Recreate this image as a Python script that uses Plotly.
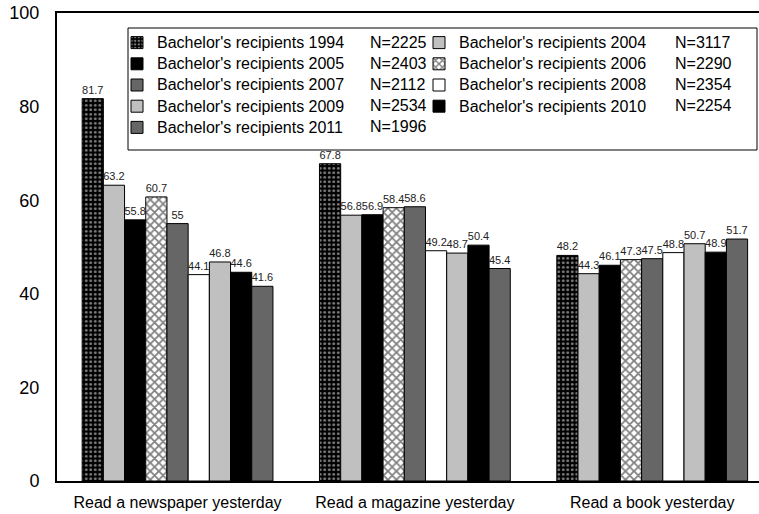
import plotly.graph_objects as go

# ---- data ----
categories = ["Read a newspaper yesterday", "Read a magazine yesterday", "Read a book yesterday"]
years = ["1994", "2004", "2005", "2006", "2007", "2008", "2009", "2010", "2011"]
sample_sizes = ["2225", "3117", "2403", "2290", "2112", "2354", "2534", "2254", "1996"]
newspaper = [81.7, 63.2, 55.8, 60.7, 55, 44.1, 46.8, 44.6, 41.6]
magazine = [67.8, 56.8, 56.9, 58.4, 58.6, 49.2, 48.7, 50.4, 45.4]
book = [48.2, 44.3, 46.1, 47.3, 47.5, 48.8, 50.7, 48.9, 51.7]
y_ticks = [0, 20, 40, 60, 80, 100]

# ---- geometry ----
W, H = 759, 514
L, T, R, B = 57, 13, 0, 33
PW, PH = W - L - R, H - T - B


def px_x(px):
    return (px - L) / PW


def px_y(py):
    return (H - B - py) / PH


FONT = "Liberation Sans, Arial, sans-serif"

styles = [
    dict(color="black", pattern=dict(shape=".", fgcolor="white", bgcolor="black", solidity=0.33, size=4.5)),
    dict(color="#c0c0c0"),
    dict(color="black"),
    dict(color="white", pattern=dict(shape="x", fgcolor="black", bgcolor="white", solidity=0.5, size=6)),
    dict(color="#666666"),
    dict(color="white"),
    dict(color="#c0c0c0"),
    dict(color="black"),
    dict(color="#666666"),
]

fig = go.Figure()
for i, yr in enumerate(years):
    vals = [newspaper[i], magazine[i], book[i]]
    fig.add_trace(go.Bar(
        x=categories, y=vals,
        name="<span style='font-size:16px'>Bachelor's recipients " + yr + "</span>",
        marker=dict(line=dict(color="black", width=1), **styles[i]),
        texttemplate="%{y}", textposition="outside",
        textfont=dict(size=11, color="#222222", family=FONT),
        constraintext="none", cliponaxis=False,
    ))

# N= labels next to legend entries
row_y = [42, 63.2, 84.4, 105.6, 126.8]
col_x = [368, 673]
annotations = []
for i, n in enumerate(sample_sizes):
    r, c = divmod(i, 2)
    annotations.append(dict(
        x=px_x(col_x[c]), y=px_y(row_y[r]), xref="paper", yref="paper",
        text="N=" + n, showarrow=False, xanchor="left", yanchor="middle",
        font=dict(size=16, color="black", family=FONT),
    ))

fig.update_layout(
    width=W, height=H,
    margin=dict(l=L, r=R, t=T, b=B, pad=0),
    paper_bgcolor="white", plot_bgcolor="white",
    font=dict(family=FONT, color="black"),
    barmode="group", bargap=0.196, bargroupgap=0,
    showlegend=True,
    legend=dict(
        orientation="h", x=px_x(117), y=px_y(27), xanchor="left", yanchor="top",
        entrywidth=257, entrywidthmode="pixels", itemwidth=30,
        bgcolor="rgba(0,0,0,0)", borderwidth=0,
        font=dict(size=14, color="black", family=FONT),
        traceorder="normal",
    ),
    shapes=[dict(
        type="rect", xref="paper", yref="paper",
        x0=px_x(128), x1=px_x(757), y0=px_y(150), y1=px_y(28),
        line=dict(color="black", width=1), fillcolor="white", layer="below",
    )],
    annotations=annotations,
    xaxis=dict(
        type="category", range=[-0.508, 2.45], showline=True, linecolor="black",
        linewidth=2, mirror=True, ticks="", showgrid=False, zeroline=False,
        tickfont=dict(size=16, color="black", family=FONT), ticklabelstandoff=6,
    ),
    yaxis=dict(
        range=[0, 100], tickvals=y_ticks, showline=True, linecolor="black",
        linewidth=2, mirror=False, ticks="", showgrid=False, zeroline=False,
        tickfont=dict(size=18, color="black", family=FONT), ticklabelstandoff=12,
    ),
)

fig.write_html(
    "out.html",
    config={"displayModeBar": False},
    post_script="document.body.style.margin='0';document.body.style.overflow='hidden';",
)
